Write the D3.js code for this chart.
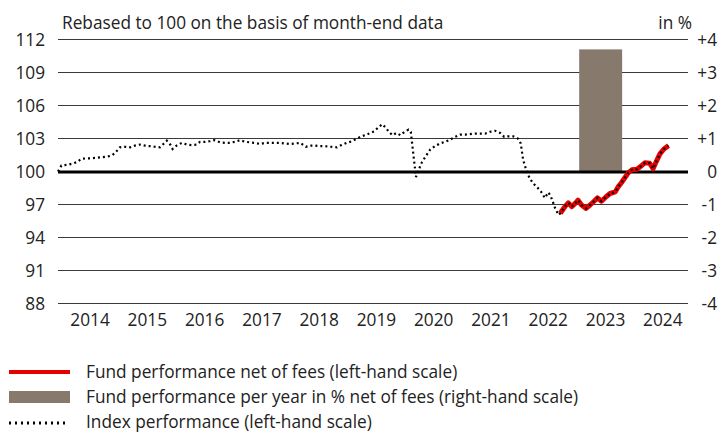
<!DOCTYPE html>
<html>
<head>
<meta charset="utf-8">
<script src="https://cdn.jsdelivr.net/npm/d3@7"></script>
<style>
  body { margin: 0; background: #fff; }
  svg text { font-family: "Open Sans", sans-serif; font-size: 17.25px; fill: #222; }
</style>
</head>
<body>
<div id="chart-container"></div>
<script>
// x values are decimal years
const indexDates = [2013.94, 2014.00, 2014.09, 2014.18, 2014.27, 2014.35, 2014.44, 2014.53, 2014.62, 2014.70,
  2014.79, 2014.88, 2014.94, 2015.02, 2015.11, 2015.20, 2015.28, 2015.37, 2015.46, 2015.55,
  2015.63, 2015.72, 2015.78, 2015.84, 2015.90, 2015.94, 2016.01, 2016.10, 2016.19, 2016.27,
  2016.36, 2016.42, 2016.51, 2016.59, 2016.67, 2016.77, 2016.86, 2016.94, 2017.03, 2017.12,
  2017.21, 2017.29, 2017.38, 2017.47, 2017.55, 2017.64, 2017.73, 2017.82, 2017.90, 2017.99,
  2018.08, 2018.17, 2018.27, 2018.34, 2018.43, 2018.51, 2018.60, 2018.69, 2018.81, 2018.89,
  2018.98, 2019.07, 2019.16, 2019.24, 2019.33, 2019.39, 2019.46, 2019.53, 2019.60, 2019.66,
  2019.71, 2019.78, 2019.85, 2019.92, 2019.99, 2020.06, 2020.10, 2020.19, 2020.23, 2020.29,
  2020.35, 2020.44, 2020.52, 2020.61, 2020.70, 2020.79, 2020.87, 2020.96, 2021.05, 2021.13,
  2021.22, 2021.31, 2021.40, 2021.48, 2021.57, 2021.66, 2021.73, 2021.80, 2021.89, 2021.97,
  2022.02, 2022.06, 2022.12, 2022.17, 2022.23, 2022.30, 2022.37, 2022.44, 2022.50, 2022.54,
  2022.58, 2022.62, 2022.68, 2022.71, 2022.79, 2022.85, 2022.91, 2022.97, 2023.02, 2023.08,
  2023.16, 2023.23, 2023.30, 2023.36, 2023.43, 2023.51, 2023.58, 2023.67, 2023.72, 2023.78,
  2023.84, 2023.90, 2023.96, 2024.05, 2024.11, 2024.19, 2024.27, 2024.33, 2024.39, 2024.45,
  2024.52, 2024.60];
const indexValues = [100.0, 100.55, 100.6, 100.7, 100.85, 101.15, 101.2, 101.2, 101.25, 101.3,
  101.35, 101.45, 101.7, 102.2, 102.25, 102.2, 102.35, 102.45, 102.35, 102.3,
  102.25, 102.2, 102.5, 102.8, 102.45, 102.05, 102.35, 102.6, 102.45, 102.4,
  102.45, 102.7, 102.7, 102.75, 102.85, 102.65, 102.6, 102.6, 102.7, 102.85,
  102.7, 102.65, 102.6, 102.5, 102.6, 102.6, 102.6, 102.6, 102.55, 102.5,
  102.55, 102.6, 102.25, 102.35, 102.35, 102.3, 102.3, 102.25, 102.2, 102.4,
  102.6, 102.75, 103.0, 103.2, 103.35, 103.5, 103.65, 104.0, 104.3, 104.0,
  103.65, 103.3, 103.5, 103.3, 103.6, 103.8, 103.6, 99.5, 100.05, 100.8,
  101.3, 102.0, 102.3, 102.55, 102.7, 102.9, 103.15, 103.35, 103.35, 103.4,
  103.45, 103.45, 103.45, 103.6, 103.7, 103.5, 103.15, 103.2, 103.2, 103.0,
  102.55, 101.1, 100.05, 99.45, 98.95, 98.6, 98.2, 97.6, 98.1, 97.8,
  97.25, 96.65, 96.05, 96.2, 96.8, 97.15, 96.8, 97.1, 97.4, 96.95,
  96.65, 96.95, 97.3, 97.6, 97.3, 97.7, 98.0, 98.15, 98.6, 99.0,
  99.45, 99.9, 100.15, 100.2, 100.45, 100.8, 100.75, 100.25, 100.95, 101.6,
  102.05, 102.35];

const fundDates = [2022.71, 2022.79, 2022.85, 2022.91, 2022.97, 2023.02, 2023.08, 2023.16, 2023.23, 2023.30,
  2023.36, 2023.43, 2023.51, 2023.58, 2023.67, 2023.72, 2023.78, 2023.84, 2023.90, 2023.96,
  2024.05, 2024.11, 2024.19, 2024.27, 2024.33, 2024.39, 2024.45, 2024.52, 2024.60];
const fundValues = [96.2, 96.8, 97.15, 96.8, 97.1, 97.4, 96.95, 96.65, 96.95, 97.3,
  97.6, 97.3, 97.7, 98.0, 98.15, 98.6, 99.0, 99.45, 99.9, 100.15,
  100.2, 100.45, 100.8, 100.75, 100.25, 100.95, 101.6, 102.05, 102.35];

const barYears = [2023];
const barValues = [3.7];

const yearLabels = [2014, 2015, 2016, 2017, 2018, 2019, 2020, 2021, 2022, 2023, 2024];
const leftTicks = [88, 91, 94, 97, 100, 103, 106, 109, 112];
const rightTicks = [-4, -3, -2, -1, 0, 1, 2, 3, 4];
const rightTickLabels = ["-4", "-3", "-2", "-1", "0", "+1", "+2", "+3", "+4"];

const legendLabels = [
  "Fund performance net of fees (left-hand scale)",
  "Fund performance per year in % net of fees (right-hand scale)",
  "Index performance (left-hand scale)"
];

chart = {
  "scale": {
    "x": d3.scaleLinear(),
    "left": d3.scaleLinear(),
    "right": d3.scaleLinear()
  },
  "margin": { "top": 39.5, "bottom": 303.5, "left": 58, "right": 688 },
  "colors": { "fund": "#e60000", "bar": "#877a6d", "grid": "#3a3a3a" }
}

function drawChart(){
  chart.scale.x.domain([2013.94, 2024.94]).range([chart.margin.left, chart.margin.right]);
  chart.scale.left.domain([88, 112]).range([chart.margin.bottom, chart.margin.top]);
  chart.scale.right.domain([-4, 4]).range([chart.margin.bottom, chart.margin.top]);

  let svg = d3.select("#chart-container").append("svg")
    .attr("id", "chart-svg").attr("width", 720).attr("height", 432);

  // gridlines (100 drawn later, thicker)
  svg.append("g").attr("id", "grid")
    .selectAll("line")
    .data(leftTicks.filter(v => v != 100))
    .enter()
    .append("line")
    .attr("x1", chart.margin.left)
    .attr("x2", chart.margin.right)
    .attr("y1", v => chart.scale.left(v))
    .attr("y2", v => chart.scale.left(v))
    .attr("stroke", chart.colors.grid)
    .attr("stroke-width", 1);

  svg.append("g").attr("id", "bars")
    .selectAll("rect")
    .data(barYears)
    .enter()
    .append("rect")
    .attr("x", (d, i) => chart.scale.x(d + 0.04))
    .attr("width", d => chart.scale.x(d + 0.79) - chart.scale.x(d + 0.04))
    .attr("y", (d, i) => chart.scale.right(barValues[i]))
    .attr("height", (d, i) => chart.scale.right(0) - chart.scale.right(barValues[i]))
    .attr("fill", chart.colors.bar);

  svg.append("line")
    .attr("x1", chart.margin.left)
    .attr("x2", chart.margin.right)
    .attr("y1", chart.scale.left(100) + 0.5)
    .attr("y2", chart.scale.left(100) + 0.5)
    .attr("stroke", "#000")
    .attr("stroke-width", 2.8);

  let line = d3.line()
    .x(d => chart.scale.x(d[0]))
    .y(d => chart.scale.left(d[1]));

  svg.append("path")
    .datum(fundDates.map((d, i) => [d, fundValues[i]]))
    .attr("d", line)
    .attr("fill", "none")
    .attr("stroke", chart.colors.fund)
    .attr("stroke-width", 5)
    .attr("stroke-linejoin", "round");

  svg.append("path")
    .datum(indexDates.map((d, i) => [d, indexValues[i]]))
    .attr("d", line)
    .attr("fill", "none")
    .attr("stroke", "#000")
    .attr("stroke-width", 2.2)
    .attr("stroke-dasharray", "2,3");

  // axis labels
  svg.append("g").attr("id", "left-labels")
    .selectAll("text")
    .data(leftTicks)
    .enter()
    .append("text")
    .attr("x", 45)
    .attr("y", v => chart.scale.left(v))
    .attr("dy", "0.36em")
    .attr("text-anchor", "end")
    .text(v => v);

  svg.append("g").attr("id", "right-labels")
    .selectAll("text")
    .data(rightTicks)
    .enter()
    .append("text")
    .attr("x", 717)
    .attr("y", v => chart.scale.right(v))
    .attr("dy", "0.36em")
    .attr("text-anchor", "end")
    .text((v, i) => rightTickLabels[i]);

  svg.append("g").attr("id", "year-labels")
    .selectAll("text")
    .data(yearLabels)
    .enter()
    .append("text")
    .attr("x", yr => chart.scale.x(yr + 0.5))
    .attr("y", 326)
    .attr("text-anchor", "middle")
    .text(yr => yr);

  svg.append("text").attr("x", 62).attr("y", 29)
    .text("Rebased to 100 on the basis of month-end data");
  svg.append("text").attr("x", 692).attr("y", 29).attr("text-anchor", "end")
    .text("in %");

  drawLegend(svg);
}

function drawLegend(svg){
  let legend = svg.append("g").attr("id", "legend");
  let rowY = [372, 397, 422];

  legend.append("line")
    .attr("x1", 9).attr("x2", 70)
    .attr("y1", rowY[0]).attr("y2", rowY[0])
    .attr("stroke", chart.colors.fund).attr("stroke-width", 4);

  legend.append("rect")
    .attr("x", 9).attr("y", rowY[1] - 6)
    .attr("width", 61).attr("height", 12)
    .attr("fill", chart.colors.bar);

  legend.append("line")
    .attr("x1", 9).attr("x2", 66)
    .attr("y1", rowY[2] + 1).attr("y2", rowY[2] + 1)
    .attr("stroke", "#000").attr("stroke-width", 3)
    .attr("stroke-dasharray", "2,4");

  legend.selectAll(".legend-label")
    .data(legendLabels)
    .enter()
    .append("text")
    .attr("class", "legend-label")
    .attr("x", 86)
    .attr("y", (d, i) => rowY[i])
    .attr("dy", "0.36em")
    .text(d => d);
}

drawChart();
</script>
</body>
</html>
